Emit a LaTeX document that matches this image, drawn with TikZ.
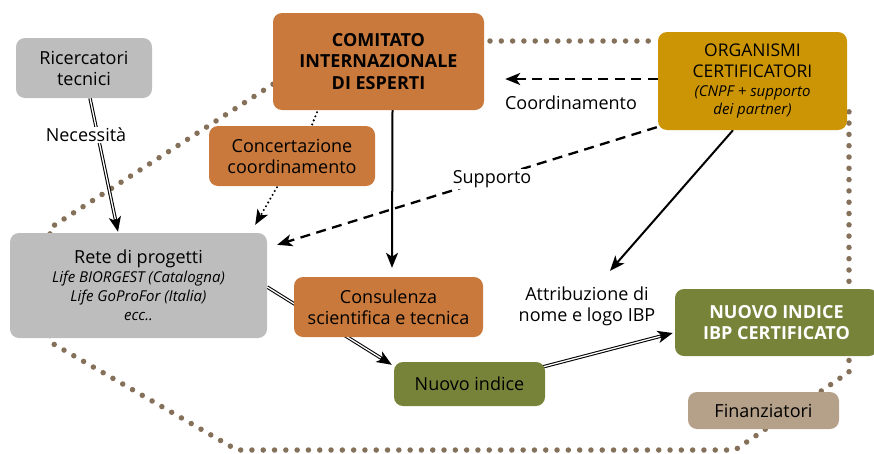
\documentclass[tikz,border=0pt]{standalone}
\usepackage{fontspec}
\setmainfont{Open Sans}
\usetikzlibrary{arrows.meta,calc}
\pgfdeclarelayer{bg}
\pgfsetlayers{bg,main}
\definecolor{cgray}{HTML}{BDBDBD}
\definecolor{corange}{HTML}{C8793B}
\definecolor{cgold}{HTML}{CC9505}
\definecolor{colive}{HTML}{78833A}
\definecolor{ctan}{HTML}{B5A189}
\definecolor{cdot}{HTML}{85705A}
\newcommand\myital{\itshape\fontsize{15}{19}\selectfont}
\begin{document}
\begin{tikzpicture}[x=1pt,y=-1pt,
  box/.style={rounded corners=9pt, inner sep=0pt, align=center, font=\fontsize{18}{21}\selectfont},
  lbl/.style={inner sep=1.5pt, fill=white, font=\fontsize{18}{21}\selectfont},
  tipsty/.style={-{Stealth[length=15pt,width=12pt,inset=4pt]}},
  solidarrow/.style={tipsty, line width=2pt},
  dasharrow/.style={tipsty, line width=2.3pt, dash pattern=on 10pt off 6.5pt},
  dblout/.style={-{Stealth[length=15pt,width=12pt,inset=4pt]}, line width=3.4pt},
  dblin/.style={white, line width=1.3pt, shorten >=13pt},
  smalldots/.style={line width=2.3pt, line cap=round, dash pattern=on 0pt off 4.4pt},
  bigdots/.style={cdot, line width=5.5pt, line cap=round, dash pattern=on 0pt off 11.3pt}]
\useasboundingbox (0,0) rectangle (874,453);

% boxes
\node[box, fill=cgray, minimum width=136pt, minimum height=60pt] (ric) at (84,68) {Ricercatori\\tecnici};
\node[box, fill=corange, minimum width=211pt, minimum height=97pt, font=\bfseries\fontsize{18}{21.5}\selectfont] (com) at (378.5,61.5) {COMITATO\\INTERNAZIONALE\\DI ESPERTI};
\node[box, fill=cgold, minimum width=189pt, minimum height=98pt, font=\fontsize{17.5}{21}\selectfont] (org) at (752.5,81) {ORGANISMI\\CERTIFICATORI\\[-2pt]{\itshape\fontsize{15}{18}\selectfont (CNPF + supporto}\\[-3pt]{\itshape\fontsize{15}{18}\selectfont dei partner)}};
\node[box, fill=corange, minimum width=166pt, minimum height=60pt] (conc) at (292,156) {Concertazione\\coordinamento};
\node[box, fill=cgray, minimum width=257pt, minimum height=105pt] (rete) at (138.5,285.5) {Rete di progetti\\[-2pt]{\myital Life BIORGEST (Catalogna)}\\[-2pt]{\myital Life GoProFor (Italia)}\\[-2pt]{\myital ecc..}};
\node[box, fill=corange, minimum width=189pt, minimum height=60pt] (cons) at (388.5,307) {Consulenza\\scientifica e tecnica};
\node[box, fill=colive, minimum width=151pt, minimum height=44pt] (nuovo) at (469.5,384) {Nuovo indice};
\node[box, fill=colive, minimum width=203pt, minimum height=67pt, text=white, font=\bfseries\fontsize{18}{21.5}\selectfont] (ibp) at (776.5,322.5) {NUOVO INDICE\\IBP CERTIFICATO};
\node[box, fill=ctan, minimum width=151pt, minimum height=37pt] (fin) at (763.5,410.5) {Finanziatori};

% labels
\node[lbl] (nec) at (86,135) {Necessità};
\node[lbl] (coord) at (571,103) {Coordinamento};
\node[lbl] (sup) at (492,179) {Supporto};
\node[lbl, fill=none, align=center] (attr) at (587,306) {Attribuzione di\\nome e logo IBP};

\begin{pgfonlayer}{bg}
  % dotted boundary
  \draw[bigdots] (292,72) -- (50,228) -- (50,342) -- (237,450) -- (735,450) -- (849,372) -- (849,104);
  \draw[bigdots] (490,41) -- (656,41);
  % connectors
  \draw[dblout] ($(ric.south)+(6,0)$) -- ($(rete.north)+(-20.5,-1)$);
  \draw[dblin] ($(ric.south)+(6,0)$) -- ($(rete.north)+(-20.5,-1)$);
  \draw[dblout] ($(rete.east)+(0,1.5)$) -- ($(nuovo.north west)+(-2,3)$);
  \draw[dblin] ($(rete.east)+(0,1.5)$) -- ($(nuovo.north west)+(-2,3)$);
  \draw[dblout] ($(nuovo.north east)+(-2,5)$) -- ($(ibp.west)+(-2,10.5)$);
  \draw[dblin] ($(nuovo.north east)+(-2,5)$) -- ($(ibp.west)+(-2,10.5)$);
  \draw[solidarrow] ($(com.south)+(14,0)$) -- ($(cons.north)+(3.5,-9)$);
  \draw[dasharrow] ($(org.west)+(0,-2)$) -- ($(com.east)+(21,17.5)$);
  \draw[dasharrow] ($(org.south west)+(-1,-3)$) -- ($(rete.north east)+(10,12)$);
  \draw[solidarrow] ($(org.south)+(-19.5,0)$) -- ($(attr.north)+(23,-14)$);
  \draw[smalldots, tipsty] ($(conc.south)+(-15,1)$) -- ($(rete.north east)+(-12,-8)$);
  \draw[smalldots] ($(com.south)+(-61.5,2)$) -- ($(conc.north)+(20,-1)$);
\end{pgfonlayer}
\end{tikzpicture}
\end{document}
